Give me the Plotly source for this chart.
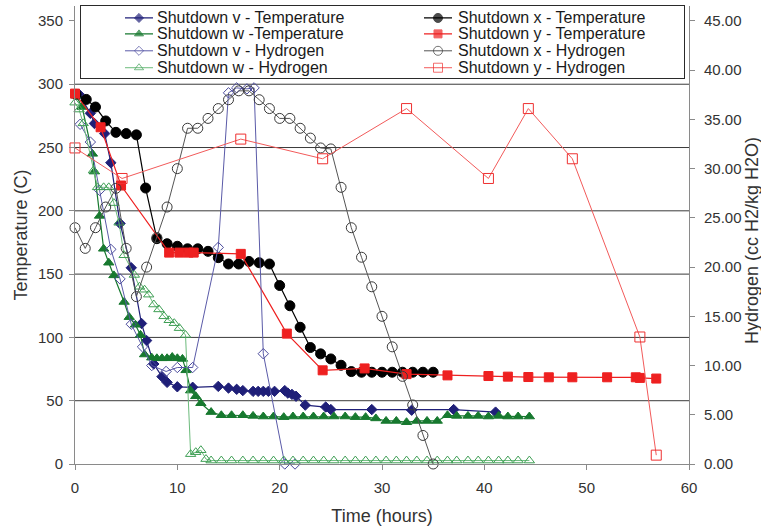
import plotly.graph_objects as go

# ---------------- data ----------------
# Shutdown v - Temperature
VT_HOURS = [0.4, 1.5, 1.9, 2.9, 3.5, 4.4, 5.5, 6.5, 7.0, 7.7, 8.5, 9.0, 10.0, 11.5, 14.0, 15.0,
            15.8, 16.4, 17.4, 17.9, 18.4, 18.9, 19.5, 20.5, 20.8, 21.2, 21.6, 22.5, 24.5, 25.0,
            29.0, 32.9, 37.0, 41.1]
VT_TEMP = [292, 277, 269, 261, 238, 190, 155, 111, 97.5, 79, 69, 64.5, 61, 60.6, 61.3, 60,
           59, 58, 57.4, 57.4, 57.4, 57.4, 57.4, 58, 56, 55, 53.5, 46.5, 45, 43,
           43, 42.5, 43, 41]

# Shutdown w - Temperature
WT_HOURS = [0.1, 0.7, 1.7, 1.9, 2.4, 2.8, 3.3, 3.8, 4.8, 5.3, 5.9, 6.4, 6.8, 7.5, 8.0, 8.5,
            9.0, 9.5, 10.0, 10.5, 10.85, 11.3, 11.8, 12.3, 13.3, 14.3, 15.3, 16.4, 17.4, 18.4,
            19.4, 20.4, 21.3, 22.3, 23.3, 24.3, 25.3, 26.4, 27.4, 28.4, 29.4, 30.4, 31.4, 32.4,
            33.4, 34.4, 35.4, 36.4, 37.3, 38.4, 39.4, 40.4, 41.4, 42.3, 43.3, 44.4]
WT_TEMP = [291, 282, 245, 231, 196, 170, 159, 149, 128, 116, 110, 102, 86.5, 84, 83.5, 83.5,
           83.5, 84.5, 83.5, 83, 74, 58, 53.5, 48, 41, 38.5, 38.5, 38.5, 38, 37.5,
           37.5, 37, 37.5, 37.5, 37.5, 37.5, 37.5, 37.5, 37, 37, 36, 34, 34, 33,
           34, 34, 34, 38.5, 38, 38, 38, 37.5, 38, 37.5, 37.5, 37.5]

# Shutdown x - Temperature
XT_HOURS = [0.1, 1.1, 2.0, 3.0, 4.0, 5.0, 6.0, 6.9, 8.0, 9.0, 10.0, 11.0, 12.0, 13.0, 14.0, 15.0,
            16.0, 17.0, 18.0, 19.0, 20.0, 21.0, 22.0, 23.0, 24.0, 25.0, 26.0, 27.0, 28.0, 29.0,
            30.0, 31.0, 32.0, 33.0, 34.0, 35.0]
XT_TEMP = [292, 288, 282, 271, 262, 261, 260, 218, 178, 174, 172, 170, 170, 168, 163, 158,
           158, 160, 159, 158, 141, 125, 108, 92, 87, 83, 78, 73, 72.5, 72.5,
           72.5, 72.5, 72.5, 72.5, 72.5, 72.5]

# Shutdown y - Temperature
YT_HOURS = [0.0, 2.5, 4.5, 9.2, 10.2, 11.1, 11.6, 16.2, 20.7, 24.2, 28.3, 32.4, 36.4, 40.4,
            42.3, 44.3, 46.3, 48.6, 52.0, 54.8, 55.2, 56.8]
YT_TEMP = [292.6, 266, 220, 167, 167, 167, 167, 166, 103, 74, 75.5, 71, 70, 69.5,
           69, 68.7, 68.5, 68.5, 68.5, 68.5, 68, 67.5]

# Shutdown v - Hydrogen
VH_HOURS = [0.5, 1.5, 2.4, 3.5, 4.4, 5.5, 6.6, 7.5, 8.9, 10.0, 11.5, 14.0, 15.0, 15.8, 16.8,
            17.5, 18.4, 20.5, 21.5]
VH_H2 = [34.5, 32.7, 27.8, 21.8, 18.8, 14.2, 11.9, 10.0, 9.4, 9.8, 9.8, 22.0, 37.7, 38.2, 38.1,
         38.2, 11.2, 0.0, 0.0]

# Shutdown w - Hydrogen
WH_HOURS = [0.0, 0.4, 0.8, 1.8, 2.2, 2.8, 3.3, 3.8, 4.3, 4.8, 5.8, 6.3, 6.8, 7.2, 7.7, 8.2,
            8.7, 9.2, 9.7, 10.2, 10.8, 11.3, 11.8, 12.3, 12.8, 13.3, 14.3, 15.3, 16.4, 17.4,
            18.4, 19.4, 20.4, 21.3, 22.3, 23.3, 24.3, 25.3, 26.4, 27.4, 28.4, 29.4, 30.4, 31.4,
            32.4, 33.4, 34.4, 35.4, 36.4, 37.3, 38.4, 39.4, 40.4, 41.4, 42.3, 43.3, 44.4]
WH_H2 = [36.7, 36.0, 34.6, 29.8, 28.1, 28.1, 28.1, 26.5, 24.5, 21.2, 19.2, 18.0, 17.7, 17.2,
         16.2, 15.7, 15.0, 14.6, 14.3, 13.8, 13.1, 1.0, 1.2, 1.4, 0.5, 0.35, 0.35, 0.35, 0.35,
         0.35, 0.35, 0.35, 0.35, 0.35, 0.35, 0.35, 0.35, 0.35, 0.35, 0.35, 0.35, 0.35, 0.35,
         0.35, 0.35, 0.35, 0.35, 0.35, 0.35, 0.35, 0.35, 0.35, 0.35, 0.35, 0.35, 0.35, 0.35]

# Shutdown x - Hydrogen
XH_HOURS = [0, 1, 2, 3, 4, 5, 6, 7, 8, 9, 10, 11, 12, 13, 14, 15, 16, 17, 18, 19, 20, 21, 22,
            23, 24, 25, 26, 27, 28, 29, 30, 31, 32, 33, 34, 35]
XH_H2 = [24.0, 21.9, 24.0, 26.1, 28.0, 21.9, 17.0, 20.0, 23.0, 26.1, 30.0, 34.1, 34.1, 35.1,
         36.1, 37.0, 37.9, 37.9, 37.0, 36.1, 35.1, 35.1, 34.1, 33.1, 32.1, 32.0, 28.1, 24.0,
         21.0, 18.0, 15.0, 11.9, 8.9, 6.0, 2.9, 0.0]

# Shutdown y - Hydrogen
YH_HOURS = [0.0, 4.6, 16.2, 24.2, 32.4, 40.4, 44.3, 48.6, 55.2, 56.8]
YH_H2 = [32.1, 29.0, 33.0, 31.0, 36.1, 29.0, 36.1, 31.0, 12.9, 0.9]

TEMP_TICKS = [0, 50, 100, 150, 200, 250, 300, 350]
GRID_TEMPS = [50, 100, 150, 200, 250, 300]
H2_TICKS = [0, 5, 10, 15, 20, 25, 30, 35, 40, 45]
TIME_TICKS = [0, 10, 20, 30, 40, 50, 60]

# ---------------- styling ----------------
FONT = "Liberation Sans, Arial, sans-serif"
TXT = "#333333"
NAVY = "#1f1f78"
GREEN = "#17792f"
RED = "#ee2020"
TEMP_MAX = 361.8
H2_MAX = TEMP_MAX * 45 / 350

series = [
    dict(name="Shutdown v - Temperature", x=VT_HOURS, y=VT_TEMP, yaxis="y",
         symbol="diamond", size=8, mcolor=NAVY, lcolor=NAVY, lw=1.2),
    dict(name="Shutdown w -Temperature", x=WT_HOURS, y=WT_TEMP, yaxis="y",
         symbol="triangle-up", size=9, mcolor=GREEN, lcolor=GREEN, lw=1.2),
    dict(name="Shutdown x - Temperature", x=XT_HOURS, y=XT_TEMP, yaxis="y",
         symbol="circle", size=10, mcolor="#000000", lcolor="#000000", lw=1.2),
    dict(name="Shutdown y - Temperature", x=YT_HOURS, y=YT_TEMP, yaxis="y",
         symbol="square", size=9, mcolor=RED, lcolor=RED, lw=1.2),
    dict(name="Shutdown v - Hydrogen", x=VH_HOURS, y=VH_H2, yaxis="y2",
         symbol="diamond-open", size=8, mcolor="#4a4a9c", lcolor="#5a5aa8", lw=1),
    dict(name="Shutdown w - Hydrogen", x=WH_HOURS, y=WH_H2, yaxis="y2",
         symbol="triangle-up-open", size=9, mcolor="#3f9f55", lcolor="#6cbb7c", lw=1),
    dict(name="Shutdown x - Hydrogen", x=XH_HOURS, y=XH_H2, yaxis="y2",
         symbol="circle-open", size=10, mcolor="#3a3a3a", lcolor="#555555", lw=1),
    dict(name="Shutdown y - Hydrogen", x=YH_HOURS, y=YH_H2, yaxis="y2",
         symbol="square-open", size=10, mcolor="#ee3030", lcolor="#f25a5a", lw=1),
]

fig = go.Figure()
for s in series:
    fig.add_trace(go.Scatter(
        x=s["x"], y=s["y"], name=s["name"], yaxis=s["yaxis"], mode="lines+markers",
        line=dict(color=s["lcolor"], width=s["lw"]),
        marker=dict(symbol=s["symbol"], size=s["size"], color=s["mcolor"],
                    line=dict(color=s["mcolor"], width=1)),
        showlegend=False, cliponaxis=False))

# ---------------- legend (drawn in its own small box subplot) ----------------
LEG_BOX_W, LEG_BOX_H = 603, 72
LEG_ROW_Y = [60, 44, 27, 10]
LEG_COLS = [dict(x0=44, x1=72, text=74), dict(x0=343, x1=371, text=375)]
# (series index, column, row)
LEG_LAYOUT = [(0, 0, 0), (1, 0, 1), (4, 0, 2), (5, 0, 3),
              (2, 1, 0), (3, 1, 1), (6, 1, 2), (7, 1, 3)]
annotations = []
for idx, col, row in LEG_LAYOUT:
    s = series[idx]
    c = LEG_COLS[col]
    yy = LEG_ROW_Y[row]
    fig.add_trace(go.Scatter(
        x=[c["x0"], (c["x0"] + c["x1"]) / 2, c["x1"]], y=[yy, yy, yy],
        xaxis="x3", yaxis="y3", mode="lines+markers", showlegend=False, hoverinfo="skip",
        line=dict(color=s["lcolor"], width=s["lw"]),
        marker=dict(symbol=s["symbol"], size=[0, s["size"] - 1, 0], color=s["mcolor"],
                    line=dict(color=s["mcolor"], width=[0, 1, 0]))))
    annotations.append(dict(x=c["text"], y=yy, xref="x3", yref="y3", text=s["name"],
                            showarrow=False, xanchor="left", yanchor="middle",
                            font=dict(family=FONT, size=16, color="#1a1a1a")))

# right axis title
annotations.append(dict(text="Hydrogen (cc H2/kg H2O)", textangle=-90, showarrow=False,
                        xref="paper", yref="paper", x=(752 - 75) / 614, y=0.487,
                        xanchor="center", yanchor="middle",
                        font=dict(family=FONT, size=18, color=TXT)))

# gridlines
shapes = [dict(type="line", xref="paper", x0=0, x1=1, yref="y", y0=g, y1=g,
               line=dict(color="#3a3a3a", width=1), layer="below") for g in GRID_TEMPS]

axis_common = dict(showline=True, linecolor="#8a8a8a", linewidth=1, ticks="outside",
                   ticklen=5, tickcolor="#8a8a8a", showgrid=False, zeroline=False,
                   tickfont=dict(family=FONT, size=15, color=TXT))

fig.update_layout(
    width=761, height=528,
    margin=dict(l=75, r=72, t=5, b=63),
    paper_bgcolor="white", plot_bgcolor="white",
    font=dict(family=FONT, size=15, color=TXT),
    showlegend=False,
    xaxis=dict(range=[0, 60], tickvals=TIME_TICKS, ticklabelstandoff=5, **axis_common,
               title=dict(text="Time (hours)", font=dict(family=FONT, size=18, color=TXT),
                          standoff=14)),
    yaxis=dict(range=[0, TEMP_MAX], tickvals=TEMP_TICKS, ticklabelstandoff=3, **axis_common,
               title=dict(text="Temperature (C)", font=dict(family=FONT, size=18, color=TXT),
                          standoff=5)),
    yaxis2=dict(range=[0, H2_MAX], tickvals=H2_TICKS, tickformat=".2f", overlaying="y",
                side="right", ticklabelstandoff=6, **axis_common),
    xaxis3=dict(domain=[6 / 614, 609 / 614], anchor="y3", range=[0, LEG_BOX_W],
                showline=True, mirror=True, linecolor="#2a2a2a", linewidth=1,
                showgrid=False, zeroline=False, showticklabels=False, ticks="", fixedrange=True),
    yaxis3=dict(domain=[(460 - 72) / 460, 1], anchor="x3", range=[0, LEG_BOX_H],
                showline=True, mirror=True, linecolor="#2a2a2a", linewidth=1,
                showgrid=False, zeroline=False, showticklabels=False, ticks="", fixedrange=True),
    shapes=shapes,
    annotations=annotations,
)

fig.write_html("out.html", config={"displayModeBar": False},
               post_script="document.body.style.margin='0';document.body.style.overflow='hidden';")
